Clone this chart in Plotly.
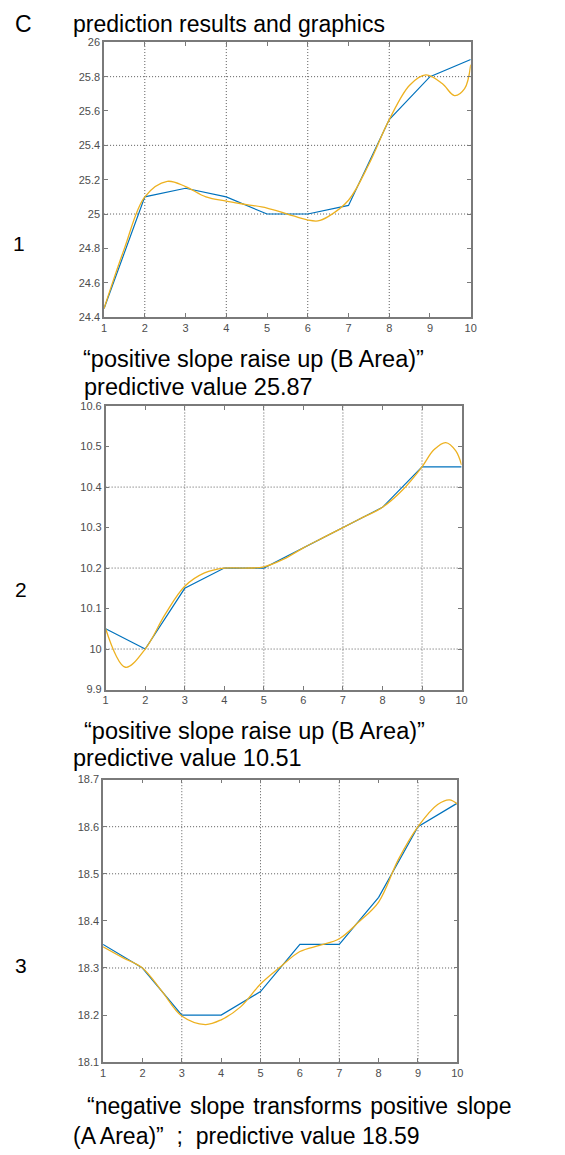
import plotly.graph_objects as go

W, H = 565, 1155

# ---------------- data ----------------
x_days = [1, 2, 3, 4, 5, 6, 7, 8, 9, 10]

actual_1 = [24.45, 25.10, 25.15, 25.10, 25.00, 25.00, 25.05, 25.55, 25.80, 25.90]
pred_x_1 = [1, 1.5, 2, 2.55, 3, 3.5, 4, 4.5, 5, 5.5, 6, 6.25, 6.5, 7, 7.5, 8, 8.5, 8.9, 9.3, 9.6, 9.85, 10]
pred_y_1 = [24.45, 24.80, 25.10, 25.19, 25.16, 25.10, 25.075, 25.055, 25.035, 25.0, 24.965, 24.96, 24.985, 25.08, 25.29, 25.55, 25.75, 25.81, 25.76, 25.69, 25.73, 25.87]

actual_2 = [10.05, 10.00, 10.15, 10.20, 10.20, 10.25, 10.30, 10.35, 10.45, 10.45]
pred_x_2 = [1, 1.5, 2, 2.5, 3, 3.5, 4, 4.5, 5, 5.5, 6, 6.5, 7, 7.5, 8, 8.5, 9, 9.3, 9.6, 9.85, 10]
pred_y_2 = [10.05, 9.955, 10.0, 10.085, 10.155, 10.188, 10.2, 10.2, 10.203, 10.222, 10.25, 10.275, 10.3, 10.325, 10.35, 10.392, 10.45, 10.492, 10.51, 10.49, 10.455]

actual_3 = [18.35, 18.30, 18.20, 18.20, 18.25, 18.35, 18.35, 18.45, 18.60, 18.65]
pred_x_3 = [1, 1.5, 2, 2.5, 3, 3.6, 4, 4.5, 5, 5.5, 6, 6.5, 7, 7.5, 8, 8.5, 9, 9.5, 9.8, 10]
pred_y_3 = [18.345, 18.322, 18.30, 18.25, 18.198, 18.18, 18.19, 18.218, 18.266, 18.302, 18.335, 18.348, 18.362, 18.398, 18.44, 18.53, 18.60, 18.647, 18.657, 18.648]

y_ticks_1 = [24.4, 24.6, 24.8, 25.0, 25.2, 25.4, 25.6, 25.8, 26.0]
y_ticks_2 = [9.9, 10.0, 10.1, 10.2, 10.3, 10.4, 10.5, 10.6]
y_ticks_3 = [18.1, 18.2, 18.3, 18.4, 18.5, 18.6, 18.7]
y_tick_text_1 = ["24.4", "24.6", "24.8", "25", "25.2", "25.4", "25.6", "25.8", "26"]
y_tick_text_2 = ["9.9", "10", "10.1", "10.2", "10.3", "10.4", "10.5", "10.6"]
y_tick_text_3 = ["18.1", "18.2", "18.3", "18.4", "18.5", "18.6", "18.7"]

# visible grid lines in the reference
grid_x_1 = [2, 4, 6, 8]
grid_y_1 = [25.0, 25.4, 25.8]
grid_x_2 = [3, 5, 7, 9]
grid_y_2 = [10.0, 10.2, 10.4]
grid_x_3 = [3, 5, 7, 9]
grid_y_3 = [18.3, 18.5, 18.6]

header_letter = "C"
header_title = "prediction results and graphics"
panel_labels = ["1", "2", "3"]
captions = [
    ["\u201cpositive slope raise up (B Area)\u201d", "predictive value 25.87"],
    ["\u201cpositive slope raise up (B Area)\u201d", "predictive value 10.51"],
    ["\u201cnegative\u200a slope\u200a transforms\u200a positive\u200a slope",
     "(A Area)\u201d\u00a0 ;\u00a0 predictive value 18.59"],
]

# ---------------- layout geometry (pixels) ----------------
panels = [
    dict(x0=102.7, x1=475.3, y0=36.7, y1=314.3, yr=[24.4, 26.0], yt=y_ticks_1, ytt=y_tick_text_1,
         act=actual_1, px=pred_x_1, py=pred_y_1, gx=grid_x_1, gy=grid_y_1),
    dict(x0=104.3, x1=466.0, y0=404.3, y1=690.7, yr=[9.9, 10.6], yt=y_ticks_2, ytt=y_tick_text_2,
         act=actual_2, px=pred_x_2, py=pred_y_2, gx=grid_x_2, gy=grid_y_2),
    dict(x0=101.7, x1=461.7, y0=781.7, y1=1067.3, yr=[18.1, 18.7], yt=y_ticks_3, ytt=y_tick_text_3,
         act=actual_3, px=pred_x_3, py=pred_y_3, gx=grid_x_3, gy=grid_y_3),
]

BLUE = "#0072BD"
YELLOW = "#EDB120"
AXIS_COL = "#7a7a7a"
GRID_COL = "#5a5a5a"
TICK_FONT = dict(family="Arial, Liberation Sans, sans-serif", size=11, color="#4d4d4d")
TEXT_FONT = "Arial, Liberation Sans, sans-serif"

fig = go.Figure()
shapes = []

for i, p in enumerate(panels):
    n = "" if i == 0 else str(i + 1)
    xa, ya = "x" + n, "y" + n
    fig.add_trace(go.Scatter(x=x_days, y=p["act"], mode="lines", xaxis=xa, yaxis=ya,
                             line=dict(color=BLUE, width=1.2), showlegend=False, hoverinfo="skip"))
    fig.add_trace(go.Scatter(x=p["px"], y=p["py"], mode="lines", xaxis=xa, yaxis=ya,
                             line=dict(color=YELLOW, width=1.3, shape="spline", smoothing=1.0),
                             showlegend=False, hoverinfo="skip"))
    dom_x = [p["x0"] / W, p["x1"] / W]
    dom_y = [1 - p["y1"] / H, 1 - p["y0"] / H]
    axis_common = dict(showline=True, linecolor=AXIS_COL, linewidth=1.5, mirror="ticks",
                       ticks="inside", ticklen=4, tickwidth=1, tickcolor=AXIS_COL,
                       showgrid=False, zeroline=False, tickfont=TICK_FONT, fixedrange=True)
    fig.update_layout(**{
        ("xaxis" + n): dict(domain=dom_x, range=[1, 10], tickvals=x_days,
                            ticktext=[str(v) for v in x_days], anchor=ya, **axis_common),
        ("yaxis" + n): dict(domain=dom_y, range=p["yr"], tickvals=p["yt"], ticktext=p["ytt"],
                            anchor=xa, **axis_common),
    })
    for gx in p["gx"]:
        shapes.append(dict(type="line", xref=xa, yref=ya + " domain", x0=gx, x1=gx, y0=0, y1=1,
                           line=dict(color=GRID_COL, width=1, dash="1px,2px"), layer="below"))
    for gy in p["gy"]:
        shapes.append(dict(type="line", xref=xa + " domain", yref=ya, x0=0, x1=1, y0=gy, y1=gy,
                           line=dict(color=GRID_COL, width=1, dash="1px,2px"), layer="below"))

annotations = []

def add_text(txt, xpx, ypx, size=23):
    annotations.append(dict(text=txt, x=xpx / W, y=1 - ypx / H, xref="paper", yref="paper",
                            xanchor="left", yanchor="middle", showarrow=False,
                            font=dict(family=TEXT_FONT, size=size, color="#000000")))

add_text(header_letter, 10, 18)
add_text(header_title, 69, 18)
label_pos = [(8, 240), (10, 590), (10, 970)]
for lab, (lx, ly) in zip(panel_labels, label_pos):
    add_text(lab, lx, ly, size=21)

cap_pos = [[(79, 357), (80, 385)], [(80, 733), (69, 760)], [(83, 1112), (69, 1142)]]
cap_size = [23.5, 23.5, 23]
for cap, pos, sz in zip(captions, cap_pos, cap_size):
    for line, (cx, cy) in zip(cap, pos):
        add_text(line, cx, cy, size=sz)

fig.update_layout(width=W, height=H, margin=dict(l=0, r=0, t=0, b=0),
                  paper_bgcolor="white", plot_bgcolor="white",
                  shapes=shapes, annotations=annotations, showlegend=False)

fig.write_html("out.html")
